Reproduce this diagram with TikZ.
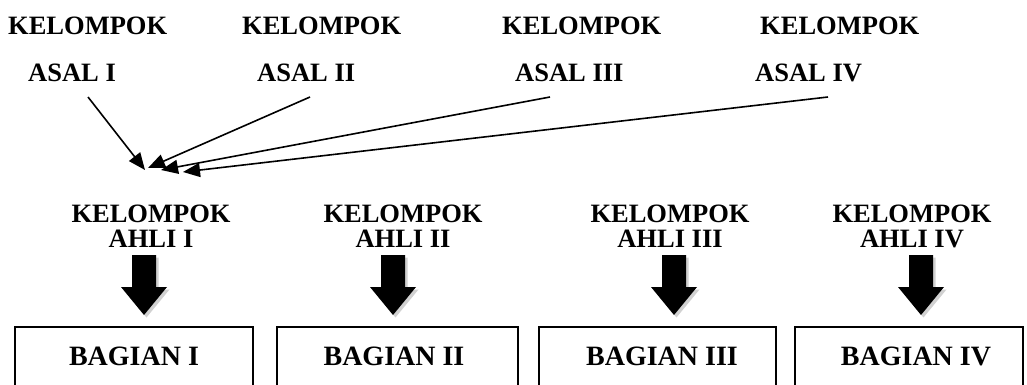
\documentclass[tikz,border=0pt]{standalone}
\usepackage{fontspec}
\setmainfont{Liberation Serif}
\usetikzlibrary{arrows.meta,shadows}
\begin{document}
\begin{tikzpicture}[x=1pt,y=-1pt,
  toplbl/.style={font=\fontsize{26.5}{26}\selectfont\bfseries, inner sep=0pt, anchor=base west},
  ahlilbl/.style={font=\fontsize{26.5}{25}\selectfont\bfseries, inner sep=0pt, align=center, anchor=south},
  baglbl/.style={font=\fontsize{28}{30}\selectfont\bfseries, inner sep=0pt, anchor=base},
  thin arrow/.style={line width=1.6pt, -{Triangle[length=17pt,width=14pt]}},
  openbox/.style={line width=1.6pt},
  blockarrow/.style={fill=black, drop shadow={shadow xshift=2.5pt, shadow yshift=-2.5pt, opacity=0.3, fill=black!60}}
]
\useasboundingbox (0,0) rectangle (1027,385);

% top labels
\node[toplbl] (k1) at (8,35) {KELOMPOK};
\node[toplbl] (a1) at (28,82) {ASAL I};
\node[toplbl] (k2) at (242,35) {KELOMPOK};
\node[toplbl] (a2) at (257,82) {ASAL II};
\node[toplbl] (k3) at (502,35) {KELOMPOK};
\node[toplbl] (a3) at (515,82) {ASAL III};
\node[toplbl] (k4) at (760,35) {KELOMPOK};
\node[toplbl] (a4) at (755,82) {ASAL IV};

% connectors
\coordinate (s1) at (88,97);
\coordinate (s2) at (310,97);
\coordinate (s3) at (550,97);
\coordinate (s4) at (828,97);
\coordinate (t1) at (145,170);
\coordinate (t2) at (148,168);
\coordinate (t3) at (161,170);
\coordinate (t4) at (183,172);
\draw[thin arrow] (s1) -- (t1);
\draw[thin arrow] (s2) -- (t2);
\draw[thin arrow] (s3) -- (t3);
\draw[thin arrow] (s4) -- (t4);

% expert group labels
\node[ahlilbl] (h1) at (151,248) {KELOMPOK\\AHLI I};
\node[ahlilbl] (h2) at (403,248) {KELOMPOK\\AHLI II};
\node[ahlilbl] (h3) at (670,248) {KELOMPOK\\AHLI III};
\node[ahlilbl] (h4) at (912,248) {KELOMPOK\\AHLI IV};

% block arrows
\foreach \cx in {144,393,674,921}{
  \path[blockarrow] (\cx-12,255) -- (\cx+12,255) -- (\cx+12,287) -- (\cx+23,287)
     -- (\cx,315) -- (\cx-23,287) -- (\cx-12,287) -- cycle;
}

% open boxes
\draw[openbox] (15,392) |- (253,327) -- (253,392);
\draw[openbox] (277,392) |- (518,327) -- (518,392);
\draw[openbox] (539,392) |- (776,327) -- (776,392);
\draw[openbox] (795,392) |- (1023,327) -- (1023,392);

\node[baglbl] (b1) at (134,365) {BAGIAN I};
\node[baglbl] (b2) at (394,365) {BAGIAN II};
\node[baglbl] (b3) at (662,365) {BAGIAN III};
\node[baglbl] (b4) at (916,365) {BAGIAN IV};
\end{tikzpicture}
\end{document}
